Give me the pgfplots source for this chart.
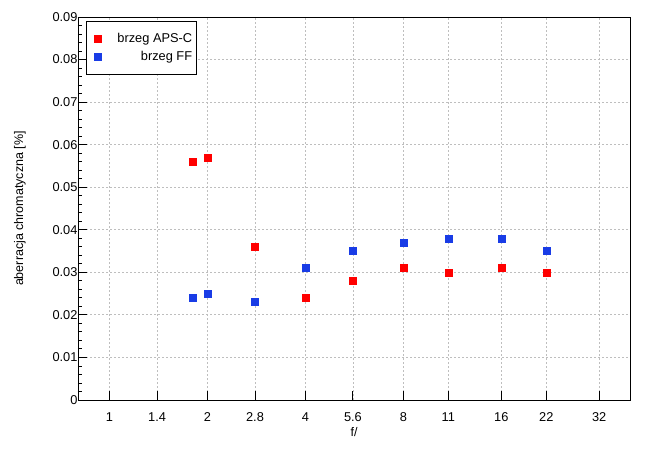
\documentclass[border=0pt]{standalone}
\usepackage{pgfplots}
\pgfplotsset{compat=1.18}
\usepackage{fontspec}
\setmainfont{Liberation Sans}
\definecolor{cred}{RGB}{255,0,0}
\definecolor{cblue}{RGB}{25,60,230}
\definecolor{gridgray}{RGB}{190,190,190}
\begin{document}
\begin{tikzpicture}
\useasboundingbox (-78pt,-55pt) rectangle (577pt,400pt);
\begin{axis}[
  at={(0pt,0pt)}, anchor=south west,
  scale only axis, width=552pt, height=383pt,
  xmode=log, log basis x=2,
  xmin=0.8, xmax=39.8,
  ymin=0, ymax=0.09,
  xtick={1,1.4,2,2.8,4,5.6,8,11,16,22,32},
  xticklabels={1,1.4,2,2.8,4,5.6,8,11,16,22,32},
  ytick={0,0.01,0.02,0.03,0.04,0.05,0.06,0.07,0.08,0.09},
  yticklabels={0,0.01,0.02,0.03,0.04,0.05,0.06,0.07,0.08,0.09},
  scaled y ticks=false,
  minor x tick num=0, xminorticks=false,
  minor y tick num=4,
  tick align=inside,
  xtick pos=bottom, ytick pos=left,
  major tick length=9pt, minor tick length=4.5pt,
  tick style={black, line width=0.9pt},
  axis line style={black, line width=0.9pt},
  grid=major,
  major grid style={gridgray, line width=0.8pt, dash pattern=on 2pt off 2pt},
  font=\fontsize{12.5}{14}\selectfont,
  tick label style={font=\fontsize{12.8}{14}\selectfont},
  xticklabel style={yshift=-9pt},
  yticklabel style={xshift=3pt},
  xlabel={f/},
  ylabel={aberracja chromatyczna [\%]},
  xlabel style={yshift=1pt},
  ylabel style={yshift=20pt},
  legend cell align=right,
  legend style={at={(0.0145,0.9896)}, anchor=north west, draw=black, line width=0.9pt,
    font=\fontsize{12.8}{14}\selectfont, row sep=3pt, inner xsep=2pt, inner ysep=10pt,
    nodes={inner ysep=2pt}},
  legend image code/.code={\path[draw=none,fill=none] (0pt,0pt) -- (27pt,0pt);\draw[#1, draw=none] plot coordinates {(9pt,0pt)};},
]
\addplot[only marks, mark=square*, mark size=3.5pt, color=cred, mark options={draw=none, fill=cred}]
  coordinates {(1.8,0.056) (2,0.057) (2.8,0.036) (4,0.024) (5.6,0.028) (8,0.031) (11,0.030) (16,0.031) (22,0.030)};
\addlegendentry{brzeg APS-C}
\addplot[only marks, mark=square*, mark size=3.5pt, color=cblue, mark options={draw=none, fill=cblue}]
  coordinates {(1.8,0.024) (2,0.025) (2.8,0.023) (4,0.031) (5.6,0.035) (8,0.037) (11,0.038) (16,0.038) (22,0.035)};
\addlegendentry{brzeg FF}
\end{axis}
\end{tikzpicture}
\end{document}
